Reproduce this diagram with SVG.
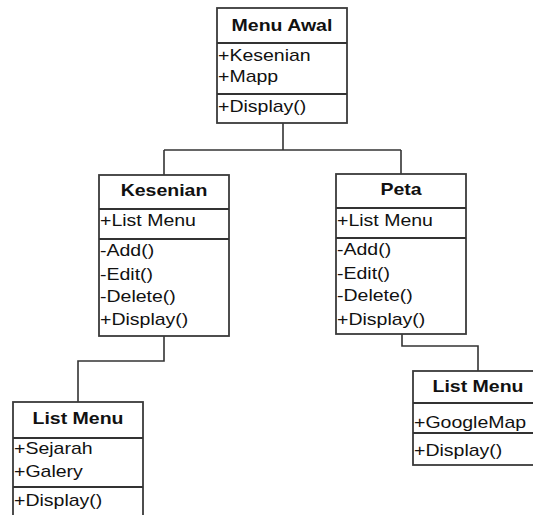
<svg xmlns="http://www.w3.org/2000/svg" width="533" height="515" viewBox="0 0 533 515">
<style>
.box{fill:#fff;stroke:#3a3a3a;stroke-width:1.8}
.div{stroke:#333;stroke-width:1.8}
.con{fill:none;stroke:#333;stroke-width:1.6}
text{font-family:"Liberation Sans",Arial,sans-serif;font-size:16px;fill:#111}
.t{font-weight:bold;text-anchor:middle}
</style>
<rect width="533" height="515" fill="#fff"/>
<g id="connectors">
<path class="con" d="M283,123 V150"/>
<path class="con" d="M164,150 H401"/>
<path class="con" d="M164,150 V175"/>
<path class="con" d="M401,150 V174"/>
<path class="con" d="M164,336 V361 H78 V402"/>
<path class="con" d="M402,334 V346 H478 V371"/>
</g>
<g id="menu-awal">
<rect class="box" x="217" y="8" width="130" height="115"/>
<line class="div" x1="217" y1="43" x2="347" y2="43"/>
<line class="div" x1="217" y1="94" x2="347" y2="94"/>
<text class="t" transform="translate(282,31) scale(1.22,1)">Menu Awal</text>
<text transform="translate(218,61) scale(1.22,1)">+Kesenian</text>
<text transform="translate(218,82) scale(1.22,1)">+Mapp</text>
<text transform="translate(218,112) scale(1.22,1)">+Display()</text>
</g>
<g id="kesenian">
<rect class="box" x="99" y="175" width="130" height="161"/>
<line class="div" x1="99" y1="209" x2="229" y2="209"/>
<line class="div" x1="99" y1="239" x2="229" y2="239"/>
<text class="t" transform="translate(164,196) scale(1.22,1)">Kesenian</text>
<text transform="translate(100,226) scale(1.22,1)">+List Menu</text>
<text transform="translate(100,256) scale(1.22,1)">-Add()</text>
<text transform="translate(100,280) scale(1.22,1)">-Edit()</text>
<text transform="translate(100,302) scale(1.22,1)">-Delete()</text>
<text transform="translate(100,325) scale(1.22,1)">+Display()</text>
</g>
<g id="peta">
<rect class="box" x="336" y="174" width="130" height="160"/>
<line class="div" x1="336" y1="208" x2="466" y2="208"/>
<line class="div" x1="336" y1="238" x2="466" y2="238"/>
<text class="t" transform="translate(401,195) scale(1.22,1)">Peta</text>
<text transform="translate(337,226) scale(1.22,1)">+List Menu</text>
<text transform="translate(337,255) scale(1.22,1)">-Add()</text>
<text transform="translate(337,279) scale(1.22,1)">-Edit()</text>
<text transform="translate(337,301) scale(1.22,1)">-Delete()</text>
<text transform="translate(337,325) scale(1.22,1)">+Display()</text>
</g>
<g id="list-menu-kesenian">
<rect class="box" x="13" y="402" width="130" height="130"/>
<line class="div" x1="13" y1="438" x2="143" y2="438"/>
<line class="div" x1="13" y1="487" x2="143" y2="487"/>
<text class="t" transform="translate(78,424) scale(1.22,1)">List Menu</text>
<text transform="translate(14,454) scale(1.22,1)">+Sejarah</text>
<text transform="translate(14,477) scale(1.22,1)">+Galery</text>
<text transform="translate(14,506) scale(1.22,1)">+Display()</text>
</g>
<g id="list-menu-peta">
<rect class="box" x="413" y="371" width="130" height="94"/>
<line class="div" x1="413" y1="403" x2="543" y2="403"/>
<line class="div" x1="413" y1="433" x2="543" y2="433"/>
<text class="t" transform="translate(478,392) scale(1.22,1)">List Menu</text>
<text transform="translate(414,428) scale(1.22,1)">+GoogleMap</text>
<text transform="translate(414,456) scale(1.22,1)">+Display()</text>
</g>
</svg>
